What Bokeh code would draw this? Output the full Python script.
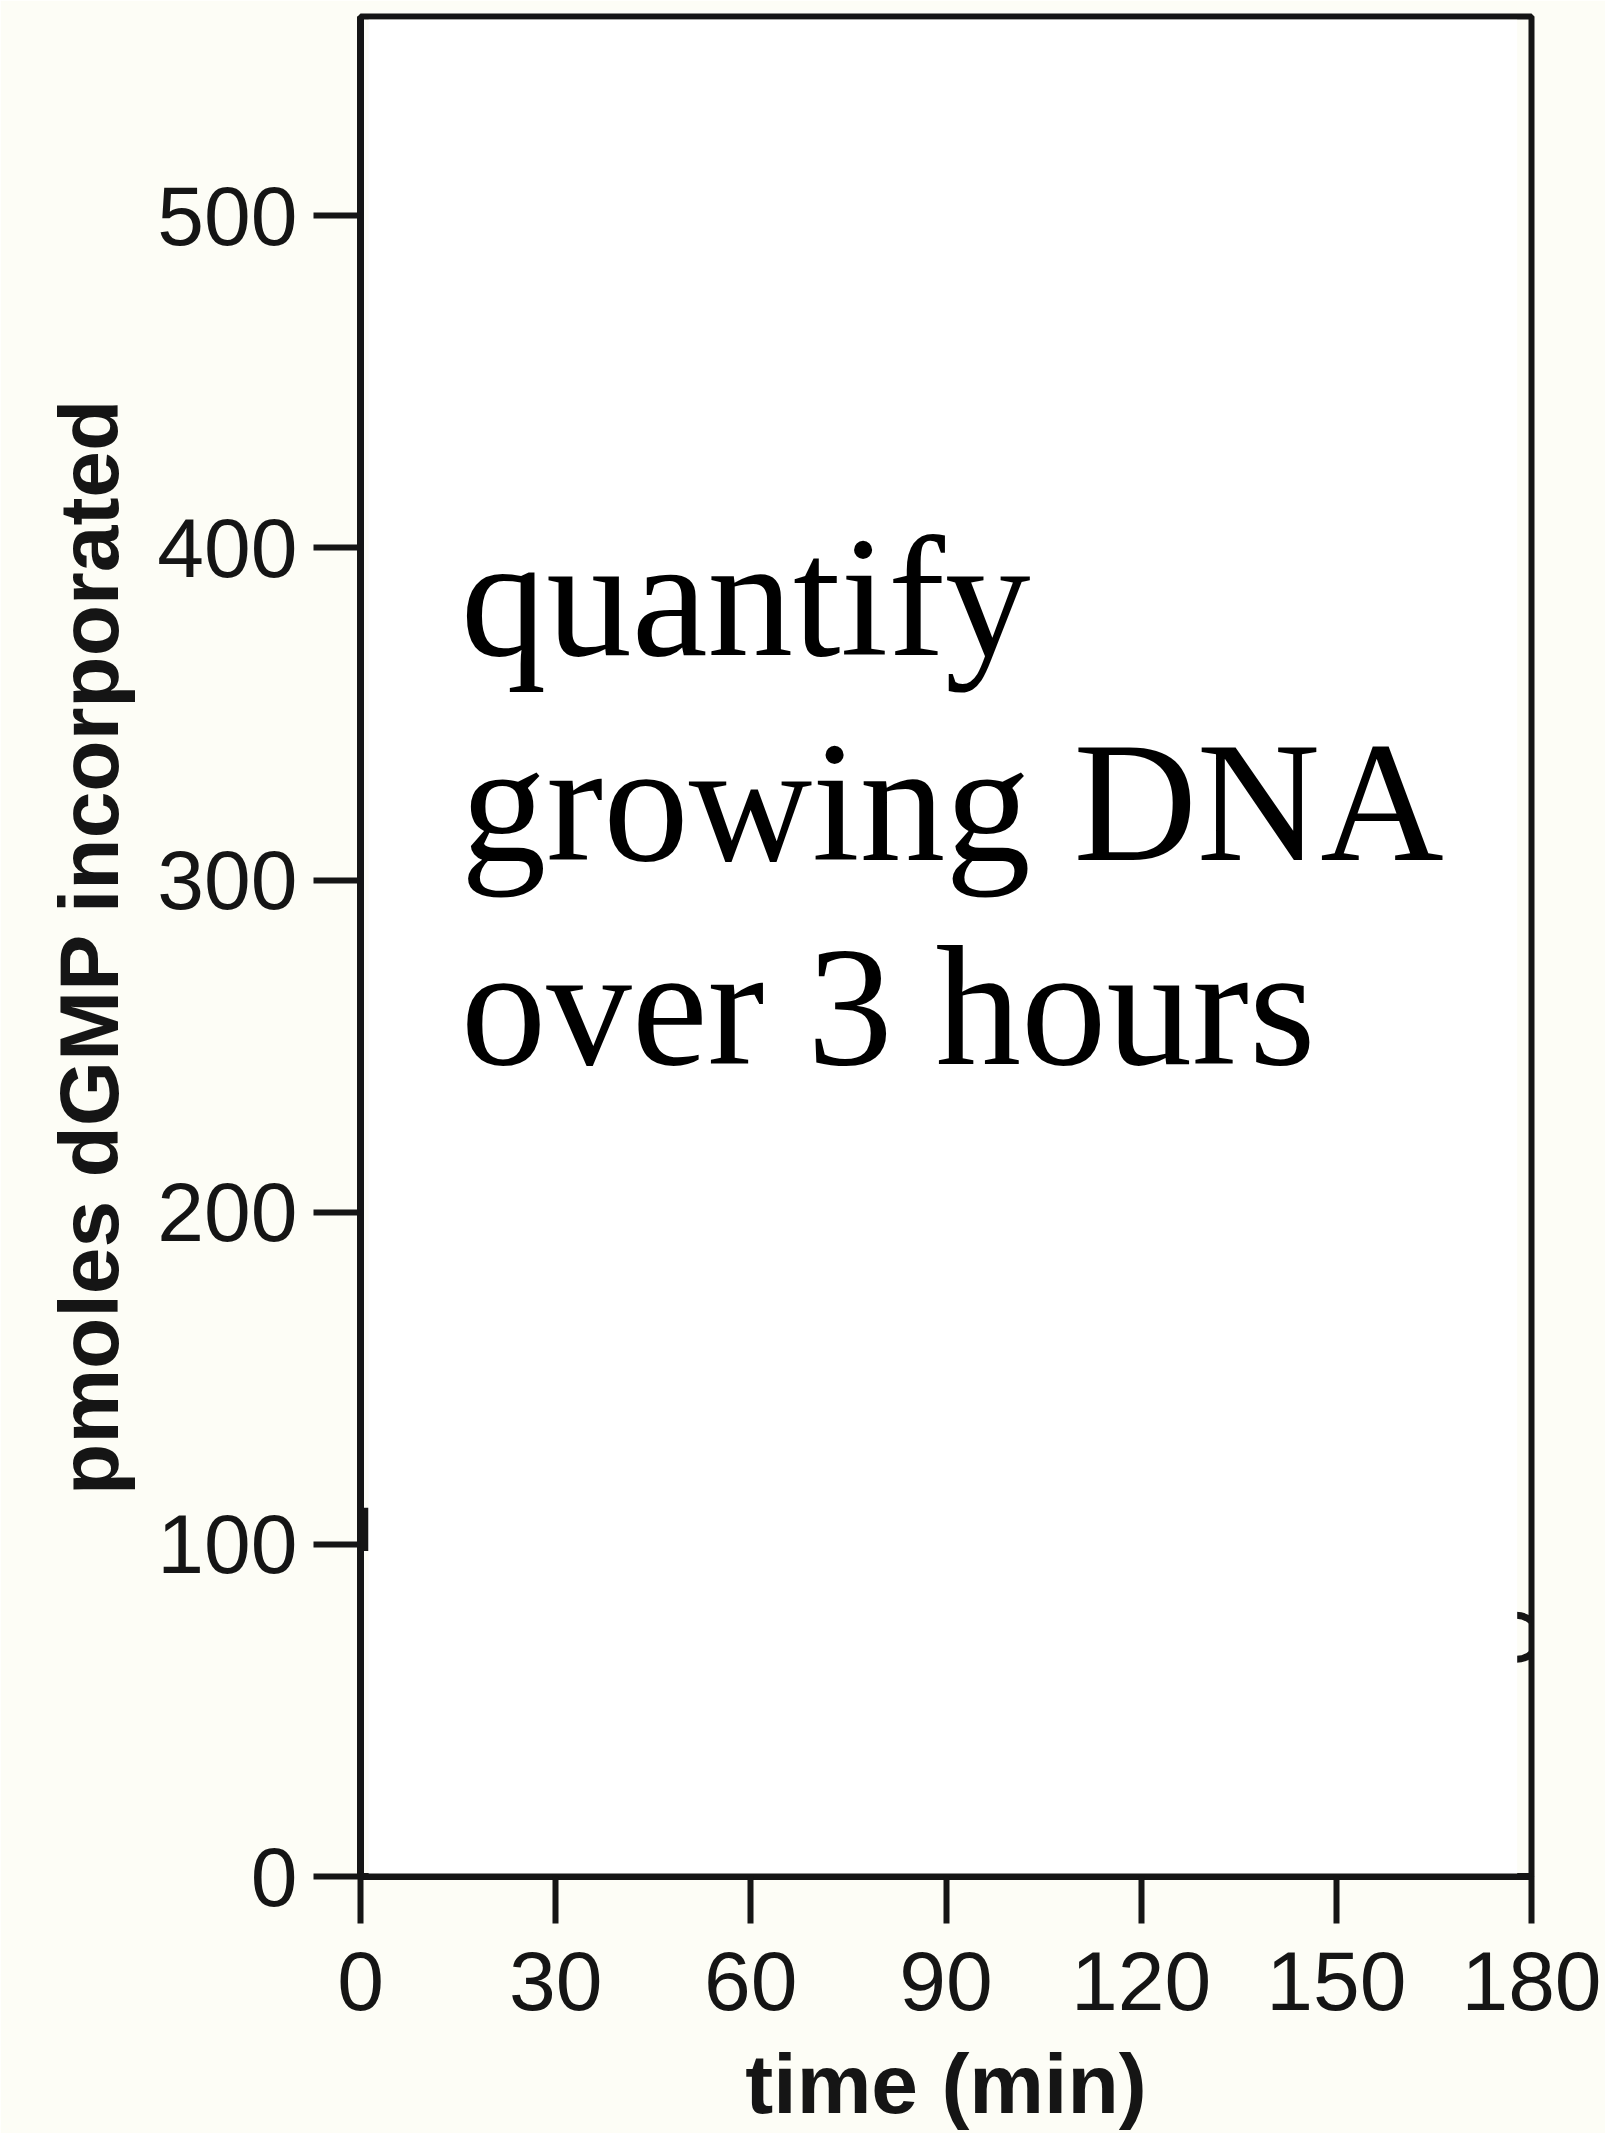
from bokeh.plotting import figure
from bokeh.models import Range1d, FixedTicker, BoxAnnotation, Label
from bokeh.embed import file_html
from bokeh.resources import INLINE

# ---- data ----
x_ticks = [0, 30, 60, 90, 120, 150, 180]
y_ticks = [0, 100, 200, 300, 400, 500]
x_label = "time (min)"
y_label = "pmoles dGMP incorporated"
overlay_lines = ["quantify", "growing DNA", "over 3 hours"]
overlay_y = [385, 323.5, 262]

# fragments of the data that peek out from under the white cover
marker_time = [177.7]
marker_value = [72]
bar_time = [0.6]
bar_low = [98]
bar_high = [111]

BG = "#fdfdf6"
INK = "#151515"

p = figure(width=1605, height=2133, output_backend="svg", toolbar_location=None,
           x_range=Range1d(0, 180), y_range=Range1d(0, 560),
           min_border_left=360, min_border_right=74, min_border_top=16, min_border_bottom=252,
           background_fill_color=BG, border_fill_color=BG,
           outline_line_color=INK, outline_line_width=6)
p.grid.visible = False

for ax in (p.xaxis[0], p.yaxis[0]):
    ax.axis_line_color = INK
    ax.axis_line_width = 7
    ax.major_tick_line_color = INK
    ax.major_tick_line_width = 6
    ax.major_tick_out = 47
    ax.major_tick_in = 0
    ax.minor_tick_line_color = None
    ax.major_label_text_font = "Liberation Sans"
    ax.major_label_text_font_size = "84px"
    ax.major_label_text_color = INK
    ax.axis_label_text_font = "Liberation Sans"
    ax.axis_label_text_font_size = "84px"
    ax.axis_label_text_font_style = "bold"
    ax.axis_label_text_color = INK

p.xaxis.ticker = FixedTicker(ticks=x_ticks)
p.yaxis.ticker = FixedTicker(ticks=y_ticks)
p.xaxis.axis_label = x_label
p.yaxis.axis_label = y_label
p.xaxis.major_label_standoff = 28
p.yaxis.major_label_standoff = 16
p.xaxis.axis_label_standoff = 24
p.yaxis.axis_label_standoff = 18

# hidden data fragments
p.scatter(marker_time, marker_value, marker="circle", size=44,
          fill_color=None, line_color=INK, line_width=7)
p.segment(x0=bar_time, y0=bar_low, x1=bar_time, y1=bar_high, line_color=INK, line_width=8)

# white cover over the plotting area
p.add_layout(BoxAnnotation(left=1.25, right=177.8, bottom=0.9, top=559,
                           fill_color="white", fill_alpha=1.0, line_color=None))

for txt, yy in zip(overlay_lines, overlay_y):
    p.add_layout(Label(x=15.4, y=yy, text=txt, text_font="Liberation Serif",
                       text_font_size="171px", text_color="black",
                       text_baseline="alphabetic", text_align="left"))

html = file_html(p, INLINE)
html = html.replace("<body>", '<body style="background:%s;margin:0">' % BG, 1)
open("out.html", "w").write(html)
